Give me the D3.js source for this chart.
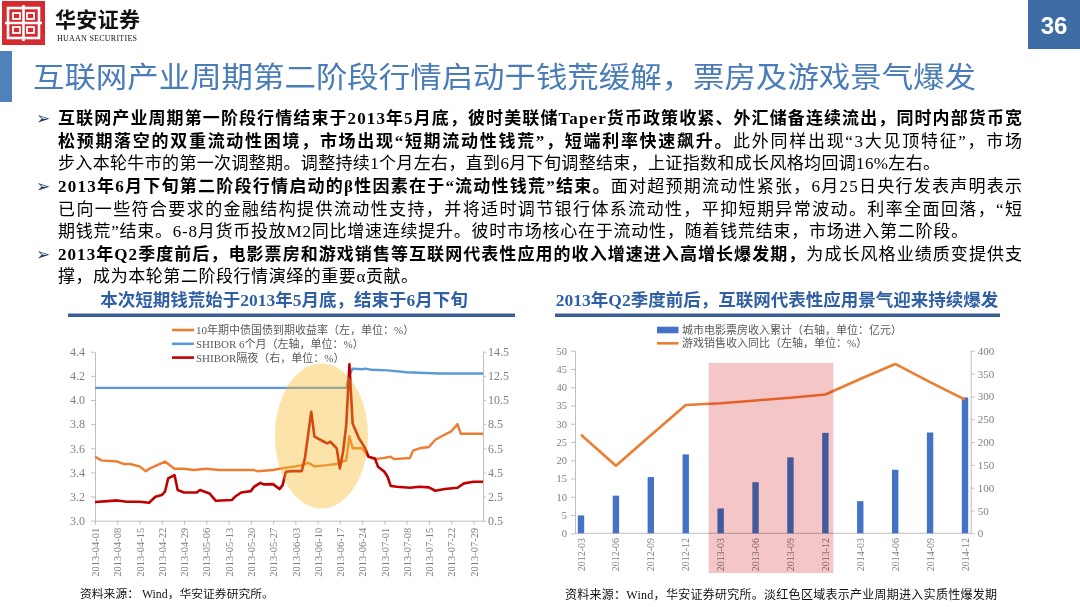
<!DOCTYPE html>
<html>
<head>
<meta charset="utf-8">
<script src="https://cdn.jsdelivr.net/npm/d3@7"></script>
<style>
  body { margin: 0; background: #fff; }
  svg { display: block; }
  text { font-family: "Liberation Serif", "Noto Sans CJK SC", serif; }
  .axis path, .axis line { stroke: #bfbfbf; }
  .axis text { fill: #7f7f7f; font-family: "Liberation Serif", serif; }
</style>
</head>
<body>
<svg id="page" width="1080" height="607"></svg>
<script>
/******************************Chart data*******************************/

// Left chart: daily rates, Apr - Jul 2013
const bondYield10y = [
  ["2013-04-01",3.53],["2013-04-03",3.50],["2013-04-08",3.49],["2013-04-10",3.47],
  ["2013-04-12",3.47],["2013-04-15",3.45],["2013-04-17",3.41],["2013-04-18",3.43],
  ["2013-04-23",3.49],["2013-04-26",3.43],["2013-04-29",3.43],["2013-05-02",3.42],
  ["2013-05-06",3.43],["2013-05-10",3.42],["2013-05-16",3.42],["2013-05-21",3.42],
  ["2013-05-22",3.41],["2013-05-27",3.42],["2013-05-29",3.43],["2013-06-03",3.45],
  ["2013-06-05",3.46],["2013-06-07",3.48],["2013-06-09",3.45],["2013-06-13",3.46],
  ["2013-06-16",3.47],["2013-06-19",3.50],["2013-06-20",3.70],["2013-06-21",3.60],
  ["2013-06-24",3.60],["2013-06-26",3.53],["2013-06-28",3.51],["2013-07-01",3.52],
  ["2013-07-03",3.53],["2013-07-04",3.51],["2013-07-09",3.52],["2013-07-10",3.58],
  ["2013-07-12",3.60],["2013-07-15",3.61],["2013-07-17",3.67],["2013-07-19",3.70],
  ["2013-07-22",3.74],["2013-07-24",3.80],["2013-07-25",3.72],["2013-07-29",3.72],
  ["2013-08-01",3.72]
];

const shibor6m = [
  ["2013-04-01",4.10],["2013-06-19",4.10],["2013-06-20",4.21],["2013-06-21",4.26],
  ["2013-06-24",4.255],["2013-06-25",4.26],["2013-06-27",4.25],["2013-07-02",4.245],
  ["2013-07-08",4.23],["2013-07-18",4.22],["2013-08-01",4.22]
];

const shiborOvernight = [
  ["2013-04-01",2.05],["2013-04-05",2.12],["2013-04-08",2.18],["2013-04-11",2.07],
  ["2013-04-15",2.07],["2013-04-18",1.99],["2013-04-20",2.48],["2013-04-22",2.62],
  ["2013-04-23",2.90],["2013-04-24",4.00],["2013-04-26",4.28],["2013-04-27",3.04],
  ["2013-04-29",2.84],["2013-05-03",2.84],["2013-05-04",3.04],["2013-05-07",2.76],
  ["2013-05-09",2.15],["2013-05-14",2.21],["2013-05-15",2.48],["2013-05-17",2.84],
  ["2013-05-20",2.95],["2013-05-21",3.31],["2013-05-23",3.64],["2013-05-24",3.51],
  ["2013-05-27",3.53],["2013-05-29",3.12],["2013-05-30",3.45],["2013-05-31",4.56],
  ["2013-06-02",4.61],["2013-06-05",4.61],["2013-06-06",5.66],["2013-06-08",9.53],
  ["2013-06-09",7.46],["2013-06-12",7.04],["2013-06-13",6.90],["2013-06-14",7.04],
  ["2013-06-16",6.49],["2013-06-17",4.83],["2013-06-18",6.21],["2013-06-19",8.42],
  ["2013-06-20",13.45],["2013-06-21",8.56],["2013-06-23",7.32],["2013-06-25",6.49],
  ["2013-06-26",5.80],["2013-06-28",5.66],["2013-06-29",4.97],["2013-07-01",4.55],
  ["2013-07-02",4.14],["2013-07-03",3.37],["2013-07-05",3.31],["2013-07-09",3.23],
  ["2013-07-12",3.31],["2013-07-15",3.26],["2013-07-17",2.98],["2013-07-20",3.12],
  ["2013-07-24",3.23],["2013-07-26",3.59],["2013-07-29",3.73],["2013-08-01",3.73]
];

const weekTicks = ["2013-04-01","2013-04-08","2013-04-15","2013-04-22","2013-04-29",
  "2013-05-06","2013-05-13","2013-05-20","2013-05-27","2013-06-03","2013-06-10",
  "2013-06-17","2013-06-24","2013-07-01","2013-07-08","2013-07-15","2013-07-22","2013-07-29"];
const rateLeftTicks = [3.0, 3.2, 3.4, 3.6, 3.8, 4.0, 4.2, 4.4];
const rateRightTicks = [0.5, 2.5, 4.5, 6.5, 8.5, 10.5, 12.5, 14.5];

// Right chart: quarterly box office & game sales
const quarters = ["2012-03","2012-06","2012-09","2012-12","2013-03","2013-06",
                  "2013-09","2013-12","2014-03","2014-06","2014-09","2014-12"];
const boxOffice = [4.9, 10.3, 15.4, 21.6, 6.8, 14.0, 20.8, 27.5, 8.8, 17.4, 27.6, 37.2];
const gameGrowth = [216, 148, 215, 281, 285, 291, 297, 304, 338, 371, 331, 293];
const boxTicks = [0, 5, 10, 15, 20, 25, 30, 35, 40, 45, 50];
const gameTicks = [0, 50, 100, 150, 200, 250, 300, 350, 400];
const boomQuarters = ["2013-03", "2013-12"];

/******************************Page texts*******************************/

const pageTitle = "互联网产业周期第二阶段行情启动于钱荒缓解，票房及游戏景气爆发";

// each line: list of [text, bold]
const bodyLines = [
  [["互联网产业周期第一阶段行情结束于2013年5月底，彼时美联储Taper货币政策收紧、外汇储备连续流出，同时内部货币宽", 1]],
  [["松预期落空的双重流动性困境，市场出现“短期流动性钱荒”，短端利率快速飙升。", 1], ["此外同样出现“3大见顶特征”，市场", 0]],
  [["步入本轮牛市的第一次调整期。调整持续1个月左右，直到6月下旬调整结束，上证指数和成长风格均回调16%左右。", 0]],
  [["2013年6月下旬第二阶段行情启动的β性因素在于“流动性钱荒”结束。", 1], ["面对超预期流动性紧张，6月25日央行发表声明表示", 0]],
  [["已向一些符合要求的金融结构提供流动性支持，并将适时调节银行体系流动性，平抑短期异常波动。利率全面回落，“短", 0]],
  [["期钱荒”结束。6-8月货币投放M2同比增速连续提升。彼时市场核心在于流动性，随着钱荒结束，市场进入第二阶段。", 0]],
  [["2013年Q2季度前后，电影票房和游戏销售等互联网代表性应用的收入增速进入高增长爆发期，", 1], ["为成长风格业绩质变提供支", 0]],
  [["撑，成为本轮第二阶段行情演绎的重要α贡献。", 0]]
];
const bulletLines = [0, 3, 6];
const lineEnds = [1022, 1022, 940, 1022, 1022, 968, 1022, 418];

/******************************Drawing*******************************/

const svg = d3.select("#page");
const parseDay = d3.timeParse("%Y-%m-%d");

/* header: logo, company name, page number, title */
function drawHeader() {
  const logo = svg.append("g");
  logo.append("rect").attr("x", 2).attr("y", 1).attr("width", 43).attr("height", 44).attr("fill", "#d52a2f");
  logo.append("rect").attr("x", 8).attr("y", 8).attr("width", 31).attr("height", 30)
    .attr("fill", "none").attr("stroke", "#fff").attr("stroke-width", 2.6);
  logo.append("path").attr("d", "M5,23 H42 M23.5,5 V41")
    .attr("stroke", "#fff").attr("stroke-width", 2.6);
  [[13, 13], [27, 13], [13, 27], [27, 27]].forEach(p => {
    logo.append("rect").attr("x", p[0]).attr("y", p[1]).attr("width", 7).attr("height", 6)
      .attr("fill", "none").attr("stroke", "#fff").attr("stroke-width", 1.8);
  });

  svg.append("text").attr("x", 55).attr("y", 27).text("华安证券")
    .style("font-family", "Noto Sans CJK SC").style("font-weight", 700)
    .attr("font-size", 21).attr("textLength", 85).attr("fill", "#111");
  svg.append("text").attr("x", 57).attr("y", 41).text("HUAAN SECURITIES")
    .attr("font-size", 8).attr("textLength", 80).attr("fill", "#111");

  svg.append("rect").attr("x", 1028).attr("y", 0).attr("width", 52).attr("height", 49).attr("fill", "#3e6ca4");
  svg.append("text").attr("x", 1054).attr("y", 34).attr("text-anchor", "middle").text("36")
    .style("font-family", "Liberation Sans, Arial, sans-serif").style("font-weight", 700)
    .attr("font-size", 24).attr("fill", "#fff");

  svg.append("rect").attr("x", 0).attr("y", 51).attr("width", 12).attr("height", 51).attr("fill", "#4f81bd");
  svg.append("text").attr("x", 33).attr("y", 88).text(pageTitle)
    .style("font-family", "Noto Sans CJK SC")
    .attr("font-size", 29).attr("textLength", 943).attr("lengthAdjust", "spacingAndGlyphs")
    .attr("fill", "#4a7cb9");
}

/* bullet paragraphs */
function drawBody() {
  bodyLines.forEach((parts, i) => {
    const y = 118 + i * 22.6;
    if (bulletLines.includes(i)) {
      svg.append("text").attr("x", 36).attr("y", y).attr("dy", "0.36em").text("➢")
        .style("font-family", "DejaVu Sans").attr("font-size", 17).attr("fill", "#1f3b66");
    }
    const t = svg.append("text").attr("x", 58).attr("y", y).attr("dy", "0.36em")
      .attr("font-size", 17).attr("fill", "#000")
      .attr("textLength", lineEnds[i] - 58).attr("lengthAdjust", "spacing");
    parts.forEach(p => {
      t.append("tspan").text(p[0]).style("font-weight", p[1] ? 700 : 400);
    });
  });
}

/* chart heading with the thick rule below it */
function chartHeading(text, cx, x0, x1) {
  svg.append("text").attr("x", cx).attr("y", 300).attr("dy", "0.36em").attr("text-anchor", "middle")
    .text(text).attr("font-size", 17.5).style("font-weight", 700).attr("fill", "#2f5fa5");
  svg.append("rect").attr("x", x0).attr("y", 313.5).attr("width", x1 - x0).attr("height", 3.5).attr("fill", "#3a5f96");
}

function styleAxis(g, size) {
  g.attr("class", "axis").selectAll("text").attr("font-size", size);
}

/*drawRates
 * Left chart: 10y bond yield, SHIBOR 6M (left axis), SHIBOR O/N (right axis)
 */
function drawRates() {
  const x = d3.scaleTime().domain([parseDay("2013-04-01"), parseDay("2013-08-01")]).range([95, 483]);
  const yL = d3.scaleLinear().domain([3.0, 4.4]).range([520.7, 351.7]);
  const yR = d3.scaleLinear().domain([0.5, 14.5]).range([520.7, 351.7]);

  const gx = svg.append("g").attr("transform", "translate(0,520.7)")
    .call(d3.axisBottom(x).tickValues(weekTicks.map(parseDay)).tickFormat(d3.timeFormat("%Y-%m-%d")).tickSize(4).tickSizeOuter(0));
  styleAxis(gx, 10.5);
  gx.selectAll("text").attr("y", 0).attr("x", -7).attr("dy", "0.35em")
    .attr("transform", "rotate(-90)").style("text-anchor", "end");

  const gl = svg.append("g").attr("transform", "translate(95,0)")
    .call(d3.axisLeft(yL).tickValues(rateLeftTicks).tickFormat(d3.format(".1f")).tickSize(4).tickPadding(6).tickSizeOuter(0));
  styleAxis(gl, 12);
  const gr = svg.append("g").attr("transform", "translate(483,0)")
    .call(d3.axisRight(yR).tickValues(rateRightTicks).tickFormat(d3.format(".1f")).tickSize(3).tickPadding(2).tickSizeOuter(0));
  styleAxis(gr, 12);

  const series = [
    { data: shibor6m, y: yL, color: "#5b9bd5", w: 2.4 },
    { data: bondYield10y, y: yL, color: "#ed7d31", w: 2.4 },
    { data: shiborOvernight, y: yR, color: "#c00000", w: 2.6 }
  ];
  series.forEach(s => {
    const line = d3.line().x(d => x(parseDay(d[0]))).y(d => s.y(d[1]));
    svg.append("path").datum(s.data).attr("d", line)
      .attr("fill", "none").attr("stroke", s.color).attr("stroke-width", s.w).attr("stroke-linejoin", "round");
  });

  // highlight of the cash crunch
  svg.append("ellipse").attr("cx", 321.5).attr("cy", 436).attr("rx", 46.5).attr("ry", 72.5)
    .attr("fill", "#f5ba2a").attr("opacity", 0.4);

  const legend = [
    ["10年期中债国债到期收益率（左，单位：%）", "#ed7d31"],
    ["SHIBOR 6个月（左轴，单位：%）", "#5b9bd5"],
    ["SHIBOR隔夜（右，单位：%）", "#c00000"]
  ];
  legend.forEach((l, i) => {
    const y = 330 + i * 13.8;
    svg.append("line").attr("x1", 172).attr("x2", 194).attr("y1", y).attr("y2", y)
      .attr("stroke", l[1]).attr("stroke-width", 2.6);
    svg.append("text").attr("x", 196).attr("y", y).attr("dy", "0.36em").text(l[0])
      .attr("font-size", 11).attr("fill", "#595959");
  });
}

/*drawBoxOffice
 * Right chart: box office bars, game sales growth line
 */
function drawBoxOffice() {
  const x = d3.scalePoint().domain(quarters).range([581, 965]);
  const yB = d3.scaleLinear().domain([0, 50]).range([533.3, 350.7]);
  const yG = d3.scaleLinear().domain([0, 400]).range([533.3, 350.7]);

  const gl = svg.append("g").attr("transform", "translate(575,0)")
    .call(d3.axisLeft(yB).tickValues(boxTicks).tickSize(4).tickPadding(4).tickSizeOuter(0));
  styleAxis(gl, 10.5);
  const gr = svg.append("g").attr("transform", "translate(970.7,0)")
    .call(d3.axisRight(yG).tickValues(gameTicks).tickSize(4).tickPadding(3).tickSizeOuter(0));
  styleAxis(gr, 11);
  svg.append("line").attr("x1", 575).attr("x2", 970.7).attr("y1", 533.3).attr("y2", 533.3).attr("stroke", "#bfbfbf");

  svg.append("g").selectAll("text").data(quarters).enter().append("text")
    .attr("transform", d => `translate(${x(d)},538) rotate(-90)`)
    .attr("dy", "0.35em").attr("text-anchor", "end").text(d => d)
    .attr("font-size", 10).attr("fill", "#7f7f7f");

  svg.append("g").selectAll("rect").data(boxOffice).enter().append("rect")
    .attr("x", (d, i) => x(quarters[i]) - 3.2).attr("width", 6.4)
    .attr("y", d => yB(d)).attr("height", d => yB(0) - yB(d)).attr("fill", "#4472c4");

  const line = d3.line().x((d, i) => x(quarters[i])).y(d => yG(d));
  svg.append("path").datum(gameGrowth).attr("d", line).attr("fill", "none")
    .attr("stroke", "#ed7d31").attr("stroke-width", 2.6).attr("stroke-linejoin", "round");

  // boom period shading
  svg.append("rect").attr("x", x(boomQuarters[0]) - 12).attr("y", 363)
    .attr("width", x(boomQuarters[1]) + 8 - (x(boomQuarters[0]) - 12)).attr("height", 210)
    .attr("fill", "#f5c6c8").style("mix-blend-mode", "multiply");

  svg.append("rect").attr("x", 657).attr("y", 326.7).attr("width", 21.5).attr("height", 6.6).attr("fill", "#4472c4");
  svg.append("text").attr("x", 682).attr("y", 330).attr("dy", "0.36em")
    .text("城市电影票房收入累计（右轴，单位：亿元）").attr("font-size", 11).attr("fill", "#595959");
  svg.append("line").attr("x1", 657).attr("x2", 678.5).attr("y1", 343.3).attr("y2", 343.3)
    .attr("stroke", "#ed7d31").attr("stroke-width", 2.6);
  svg.append("text").attr("x", 682).attr("y", 343.3).attr("dy", "0.36em")
    .text("游戏销售收入同比（左轴，单位：%）").attr("font-size", 11).attr("fill", "#595959");
}

function drawSources() {
  svg.append("text").attr("x", 80).attr("y", 594).attr("dy", "0.36em")
    .text("资料来源： Wind，华安证券研究所。").attr("font-size", 11.8).attr("fill", "#111");
  svg.append("text").attr("x", 565).attr("y", 595).attr("dy", "0.36em")
    .text("资料来源：Wind，华安证券研究所。淡红色区域表示产业周期进入实质性爆发期")
    .attr("font-size", 12).attr("textLength", 432).attr("fill", "#111");
}

drawHeader();
drawBody();
chartHeading("本次短期钱荒始于2013年5月底，结束于6月下旬", 284, 68, 515);
chartHeading("2013年Q2季度前后，互联网代表性应用景气迎来持续爆发", 777, 555, 1000);
drawRates();
drawBoxOffice();
drawSources();
</script>
</body>
</html>
